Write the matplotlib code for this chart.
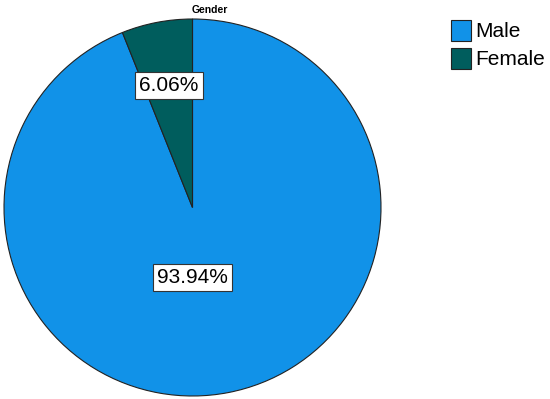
import numpy as np
import matplotlib
matplotlib.use("Agg")
import matplotlib.pyplot as plt

plt.rcParams["font.family"] = ["Liberation Sans", "DejaVu Sans"]

categories = ["Male", "Female"]
percents = [93.94, 6.06]
colors = ["#1192e8", "#005d5d"]

W, H = 550, 399
fig = plt.figure(figsize=(W / 100, H / 100), dpi=100)

cx, cy, r = 192.5, 207.5, 188.5
ax = fig.add_axes([(cx - r) / W, 1 - (cy + r) / H, 2 * r / W, 2 * r / H])
wedges, _ = ax.pie(percents, colors=colors, startangle=90, counterclock=False,
                   radius=1.0, wedgeprops=dict(edgecolor="#222222", linewidth=0.8))
ax.set_xlim(-1, 1)
ax.set_ylim(-1, 1)
ax.set_aspect("auto")

box = dict(boxstyle="square,pad=0.2", facecolor="white", edgecolor="#333333", linewidth=0.8)
# female label placed along its mid angle, male label below the centre
mid = np.deg2rad(90 + percents[1] / 100 * 180)
ax.text(0.66 * np.cos(mid), 0.66 * np.sin(mid), f"{percents[1]:.2f}%",
        ha="center", va="center", fontsize=15, bbox=box)
ax.text(0, -0.37, f"{percents[0]:.2f}%", ha="center", va="center",
        fontsize=15, bbox=box)

fig.text(210 / W, 1 - 10 / H, "Gender", ha="center", va="center",
         fontsize=7.5, fontweight="bold")

fig.legend(wedges, categories, loc="upper left", bbox_to_anchor=(451 / W, 1 - 20 / H),
           frameon=False, fontsize=15, handlelength=0.97, handleheight=1.15,
           handletextpad=0.2, labelspacing=0.32, borderaxespad=0, borderpad=0)

fig.savefig("out.png", dpi=100)
